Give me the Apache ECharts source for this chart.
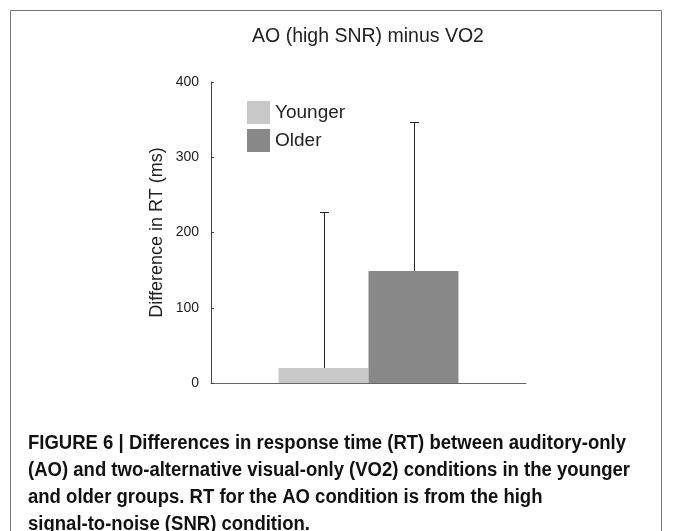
<!DOCTYPE html>
<html>
<head>
<meta charset="utf-8">
<script src="https://cdn.jsdelivr.net/npm/echarts@6/dist/echarts.min.js"></script>
<style>
  html, body { margin: 0; padding: 0; background: #fff; }
  #chart { width: 673px; height: 531px; }
</style>
</head>
<body>
<div id="chart"></div>
<script>
// data
const groups = ['Younger', 'Older'];
const means = [20, 149];
const errors = [207, 198];   // upper error bar length
const yTicks = [0, 100, 200, 300, 400];
const titleText = 'AO (high SNR) minus VO2';
const captionLines = [
    'FIGURE 6 | Differences in response time (RT) between auditory-only',
    '(AO) and two-alternative visual-only (VO2) conditions in the younger',
    'and older groups. RT for the AO condition is from the high',
    'signal-to-noise (SNR) condition.'
];

const colors = ['#c8c8c8', '#888888'];
const barWidth = 90;
const sans = '"Liberation Sans", Arial, sans-serif';

// the caption uses a condensed face, so squeeze regular bold text horizontally
function textWidth(text, font) {
    let ctx = document.createElement('canvas').getContext('2d');
    ctx.font = font;
    return ctx.measureText(text).width;
}

let chart = echarts.init(document.getElementById('chart'));

// error bars, drawn only upward from each bar top
const errorSeries = {
    type: 'custom',
    silent: true,
    z: 10,
    data: groups.map((g, i) => [0, means[i], means[i] + errors[i], i]),
    renderItem: function (params, api) {
        let idx = api.value(3);
        let offset = (idx === 0 ? -1 : 1) * barWidth / 2;
        let base = api.coord([0, api.value(1)]);
        let top = api.coord([0, api.value(2)]);
        let x = Math.round(base[0] + offset) + 0.5;
        let yTop = Math.round(top[1]) + 0.5;
        return {
            type: 'group',
            children: [
                { type: 'line', shape: { x1: x, y1: base[1], x2: x, y2: yTop },
                  style: { stroke: '#222', lineWidth: 1 } },
                { type: 'line', shape: { x1: x - 4.5, y1: yTop, x2: x + 4.5, y2: yTop },
                  style: { stroke: '#222', lineWidth: 1 } }
            ]
        };
    }
};

const capFont = 'bold 20px ' + sans;
const capScale = 598 / textWidth(captionLines[0], capFont);

let graphics = [
    { type: 'rect', shape: { x: 10.5, y: 10.5, width: 651, height: 530 },
      style: { fill: 'none', stroke: '#777', lineWidth: 1 }, silent: true },
    // title is centred over the plot area, not the whole figure
    { type: 'text', x: 368, y: 27, silent: true,
      style: { text: titleText, fill: '#222', font: '19.5px ' + sans,
               textAlign: 'center', textVerticalAlign: 'top' } }
];
captionLines.forEach((line, i) => {
    graphics.push({
        type: 'text', x: 28, y: 433 + i * 27.2, scaleX: capScale, silent: true,
        style: { text: line, fill: '#111', font: capFont }
    });
});

let option = {
    animation: false,
    backgroundColor: '#fff',
    legend: {
        orient: 'vertical',
        left: 242,
        top: 96,
        itemWidth: 23,
        itemHeight: 23,
        itemGap: 5,
        icon: 'rect',
        data: groups,
        textStyle: { fontFamily: sans, fontSize: 19, color: '#222' }
    },
    grid: { left: 211, right: 147, top: 82, bottom: 148 },
    xAxis: {
        type: 'category',
        data: [''],
        axisLine: { lineStyle: { color: '#666', width: 1 } },
        axisTick: { show: false },
        axisLabel: { show: false }
    },
    yAxis: {
        type: 'value',
        min: yTicks[0],
        max: yTicks[yTicks.length - 1],
        interval: 100,
        name: 'Difference in RT (ms)',
        nameLocation: 'middle',
        nameGap: 45,
        nameTextStyle: { fontFamily: sans, fontSize: 18, color: '#222' },
        axisLine: { show: true, lineStyle: { color: '#444', width: 1 } },
        axisTick: { show: true, inside: true, length: 3, lineStyle: { color: '#444' } },
        axisLabel: { fontFamily: sans, fontSize: 14, color: '#222', margin: 12 },
        splitLine: { show: false }
    },
    series: groups.map((g, i) => ({
        name: g,
        type: 'bar',
        barWidth: barWidth,
        barGap: 0,
        itemStyle: { color: colors[i] },
        data: [means[i]]
    })).concat([errorSeries]),
    graphic: graphics
};

chart.setOption(option);
</script>
</body>
</html>
